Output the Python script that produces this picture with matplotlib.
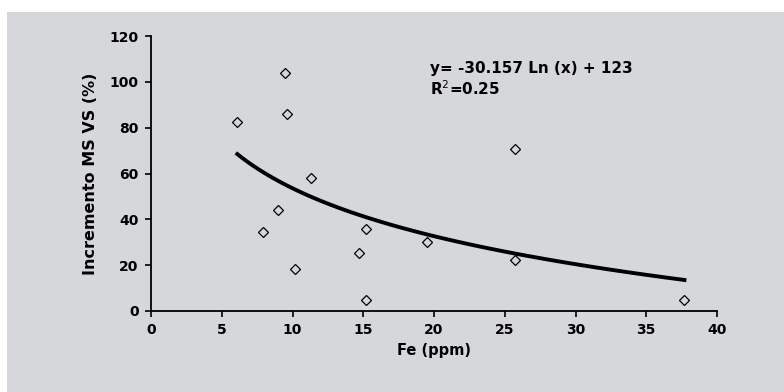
import numpy as np
import matplotlib.pyplot as plt
from matplotlib.patches import Rectangle

# datos
fe = [6.1, 9.5, 9.6, 11.3, 9.0, 7.9, 10.2, 15.2, 14.7, 15.2, 19.5, 25.7, 25.7, 37.7]
incremento = [82.5, 104, 86, 58, 44, 34.5, 18.3, 36, 25.3, 4.8, 30, 70.7, 22.3, 4.8]

# ajuste logaritmico
a = -30.157
b = 123
x_ajuste = np.linspace(min(fe), max(fe), 100)
y_ajuste = a * np.log(x_ajuste) + b

gris = '#d5d7da'

fig = plt.figure(figsize=(7.84, 3.92), dpi=100, facecolor='white')
fig.patches.append(Rectangle((7 / 784, 0), 1, (392 - 12) / 392, transform=fig.transFigure,
                             facecolor=gris, edgecolor='none', zorder=-1))

ax = fig.add_axes([151 / 784, 81 / 392, (717 - 151) / 784, (311 - 36) / 392])
ax.set_facecolor(gris)

ax.plot(x_ajuste, y_ajuste, color='black', lw=2.8, zorder=2)
ax.plot(fe, incremento, 'D', ms=5, mfc='none', mec='black', mew=0.9, zorder=3)

ax.set_xlim(0, 40)
ax.set_ylim(0, 120)
ax.set_xticks(range(0, 41, 5))
ax.set_yticks(range(0, 121, 20))
for s in ['top', 'right']:
    ax.spines[s].set_visible(False)
for s in ['left', 'bottom']:
    ax.spines[s].set_linewidth(1.3)
ax.tick_params(direction='out', length=4, width=1.2, labelsize=10, pad=5)
for lab in ax.get_xticklabels() + ax.get_yticklabels():
    lab.set_fontweight('bold')

ax.set_xlabel('Fe (ppm)', fontsize=10.5, fontweight='bold', labelpad=4)
ax.set_ylabel('Incremento MS VS (%)', fontsize=11.5, fontweight='bold', labelpad=8)

ax.text(19.7, 106, 'y= -30.157 Ln (x) + 123', fontsize=11, fontweight='bold', va='center')
ax.text(19.7, 97, 'R$^2$=0.25', fontsize=11, fontweight='bold', va='center')

plt.savefig('out.png', dpi=100, facecolor='white')
